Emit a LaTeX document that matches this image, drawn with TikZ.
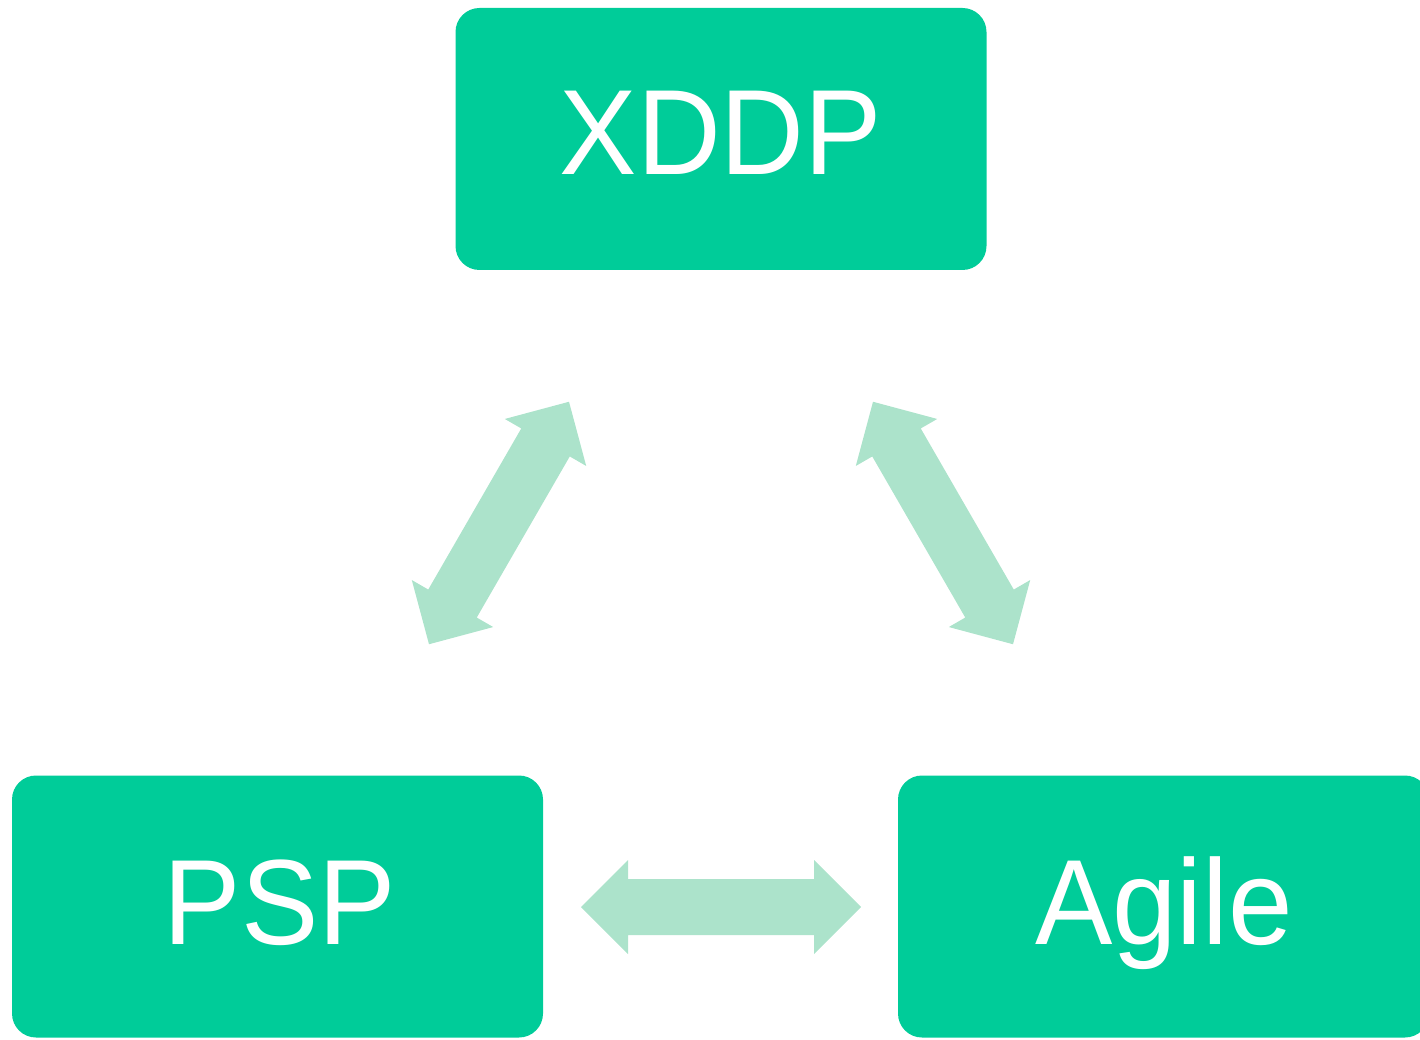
\documentclass[tikz,border=0pt]{standalone}
\usepackage{fontspec}
\setmainfont{Liberation Sans}
\definecolor{boxgreen}{HTML}{00CC99}
\definecolor{arrowgreen}{HTML}{ACE3CB}
\tikzset{
  box/.style={fill=boxgreen, draw=none, rounded corners=24pt,
    minimum width=531pt, minimum height=262pt, inner sep=0pt},
  lbl/.style={text=white, font=\fontsize{116}{120}\selectfont, anchor=base,
    inner sep=0pt, yscale=1.045, transform shape},
  blockarrow/.pic={
    \fill[arrowgreen] (-140,0) -- (-93,-47) -- (-93,-28) -- (93,-28) -- (93,-47)
      -- (140,0) -- (93,47) -- (93,28) -- (-93,28) -- (-93,47) -- cycle;
  }
}
\begin{document}
\begin{tikzpicture}[x=1pt,y=-1pt]
\useasboundingbox (0,0) rectangle (1420,1040);
\clip (0,0) rectangle (1420,1040);
\node[box] (xddp) at (721,139) {};
\node[box] (psp) at (277.5,906.5) {};
\node[box] (agile) at (1163.5,906.5) {};
\node[lbl] (xddpt) at (721,175) {XDDP};
\node[lbl] (pspt) at (280,944) {PSP};
\node[lbl] (agilet) at (1164,944) {Agile};
\pic[shift={(499,523)}, rotate=60] (a1) {blockarrow};
\pic[shift={(943,523)}, rotate=-60] (a2) {blockarrow};
\pic[shift={(721,907)}] (a3) {blockarrow};
\end{tikzpicture}
\end{document}
